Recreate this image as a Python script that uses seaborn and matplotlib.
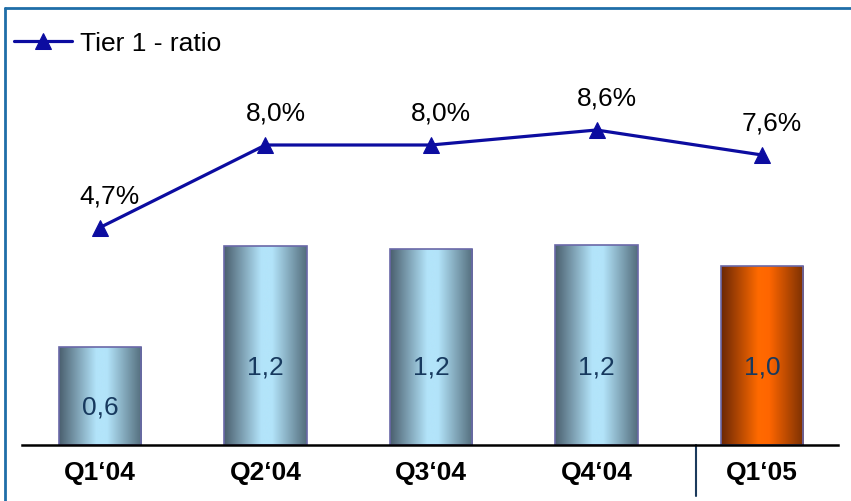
import matplotlib.pyplot as plt
import numpy as np
import seaborn as sns
from matplotlib.colors import LinearSegmentedColormap
from matplotlib.lines import Line2D

quarters = ["Q1‘04", "Q2‘04", "Q3‘04", "Q4‘04", "Q1‘05"]
capital_bn = [0.60, 1.22, 1.20, 1.23, 1.10]
capital_labels = ["0,6", "1,2", "1,2", "1,2", "1,0"]
tier1_ratio = [4.7, 8.0, 8.0, 8.6, 7.6]
tier1_labels = ["4,7%", "8,0%", "8,0%", "8,6%", "7,6%"]

sns.set_theme(style="white")
plt.rcParams["font.family"] = ["Liberation Sans", "DejaVu Sans"]
plt.rcParams["text.color"] = "black"

W, H = 851, 502
fig = plt.figure(figsize=(W / 100, H / 100), dpi=100)
ax = fig.add_axes([22 / W, 56 / H, 816 / W, 436 / H])

blue_cmap = LinearSegmentedColormap.from_list(
    "blue_bar", [(0, "#4a5f6e"), (0.45, "#b3e4fa"), (0.58, "#b3e4fa"), (1, "#536d7c")])
orange_cmap = LinearSegmentedColormap.from_list(
    "orange_bar", [(0, "#6a2705"), (0.45, "#ff6a00"), (0.58, "#ff6600"), (1, "#7a3003")])
cmaps = [blue_cmap] * 4 + [orange_cmap]

sns.barplot(x=quarters, y=capital_bn, hue=quarters, palette=["#9ccbe0"] * 4 + ["#ff6600"],
            legend=False, width=0.5, ax=ax)

grad = np.linspace(0, 1, 256).reshape(1, -1)
for patch, cmap in zip(ax.patches, cmaps):
    x0, y0 = patch.get_x(), patch.get_y()
    w, h = patch.get_width(), patch.get_height()
    img = ax.imshow(grad, cmap=cmap, extent=[x0, x0 + w, y0, y0 + h],
                    aspect="auto", zorder=1.5, interpolation="bicubic")
    img.set_clip_path(patch)
    patch.set_facecolor("none")
    patch.set_edgecolor("#6a68a8")
    patch.set_linewidth(1.2)
    patch.set_zorder(2)

for i, (v, lab) in enumerate(zip(capital_bn, capital_labels)):
    y = 0.39 * v if v < 1 else 0.48
    ax.text(i, y, lab, ha="center", va="center", fontsize=19, color="#17395e", zorder=3)

ax.set_xlim(-0.471, 4.459)
ax.set_ylim(0, 436 / 163)
ax.set_aspect("auto")
for s in ["left", "right", "top"]:
    ax.spines[s].set_visible(False)
ax.spines["bottom"].set_color("black")
ax.spines["bottom"].set_linewidth(1.8)
ax.set_yticks([])
ax.set_ylabel("")
ax.tick_params(axis="x", length=0, pad=11)
for t in ax.get_xticklabels():
    t.set_fontsize(19)
    t.set_fontweight("bold")
    t.set_color("black")

# divider before the latest quarter
ax.plot([3.6, 3.6], [0, -51 / 163], color="#1b3a5c", lw=1.5, clip_on=False)

ax2 = ax.twinx()
sns.lineplot(x=quarters, y=tier1_ratio, ax=ax2, sort=False, color="#0c0ca0", lw=2.3,
             marker="^", markersize=12, markeredgecolor="#0c0ca0", label="Tier 1 - ratio")
for i, (v, lab) in enumerate(zip(tier1_ratio, tier1_labels)):
    ax2.annotate(lab, (i, v), xytext=(10, 32), textcoords="offset pixels",
                 ha="center", va="center", fontsize=19, color="black")
ax2.set_ylim(-4.0, 13.44)
ax2.set_xlim(-0.471, 4.459)
ax2.set_yticks([])
ax2.set_ylabel("")
for s in ax2.spines.values():
    s.set_visible(False)
leg = ax2.legend(loc="center left", bbox_to_anchor=(14 / W, 1 - 44 / H),
                 bbox_transform=fig.transFigure, frameon=False, fontsize=19,
                 handlelength=2.2, handletextpad=0.3, borderpad=0, borderaxespad=0)
for t in leg.get_texts():
    t.set_color("black")

# outer frame (top and left edges)
fig.add_artist(Line2D([5 / W, 5 / W], [0, 1 - 9 / H], transform=fig.transFigure,
                      color="#1f6ea8", lw=2))
fig.add_artist(Line2D([5 / W, 1], [1 - 9 / H, 1 - 9 / H], transform=fig.transFigure,
                      color="#1f6ea8", lw=2))

fig.savefig("out.png", dpi=100)
plt.close(fig)
